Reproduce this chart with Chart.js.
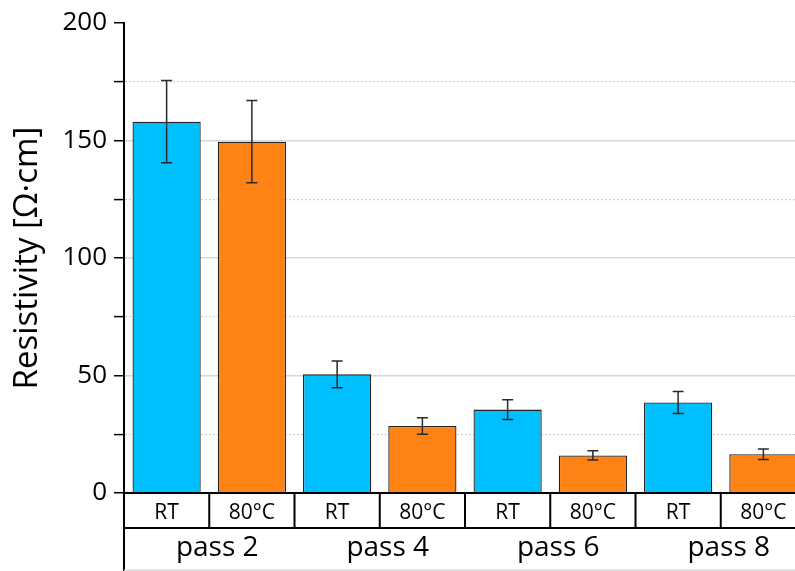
<!DOCTYPE html>
<html>
<head>
<meta charset="utf-8">
<script src="https://cdn.jsdelivr.net/npm/chart.js@4.4.1/dist/chart.umd.min.js"></script>
<style>
  html, body { margin: 0; padding: 0; background: #fff; overflow: hidden; }
  #wrap { position: relative; width: 806px; height: 571px; }
</style>
</head>
<body>
<div id="wrap"><canvas id="c"></canvas></div>
<script>
// Resistivity of printed samples after each pass, cured at RT or 80 °C
const groups = ['pass 2', 'pass 4', 'pass 6', 'pass 8'];
const conditions = ['RT', '80°C'];
const resistivityRT = [158, 50.5, 35.5, 38.5];
const resistivity80 = [149.5, 28.5, 16, 16.5];
const errorRT = [17.5, 5.7, 4.2, 4.7];
const error80 = [17.5, 3.5, 2.0, 2.2];
const yTicks = [0, 50, 100, 150, 200];

const colorRT = '#00BFFF';
const color80 = '#FF8214';
const FONT = '"Open Sans", "Noto Sans", sans-serif';

// interleave the two conditions per pass
const labels = [], values = [], errors = [], colors = [], condOf = [];
groups.forEach((g, i) => {
  labels.push(g + ' ' + conditions[0]); values.push(resistivityRT[i]); errors.push(errorRT[i]); colors.push(colorRT); condOf.push(conditions[0]);
  labels.push(g + ' ' + conditions[1]); values.push(resistivity80[i]); errors.push(error80[i]); colors.push(color80); condOf.push(conditions[1]);
});

// error bars on top of each bar
const errorBars = {
  id: 'errorBars',
  afterDatasetsDraw(chart) {
    const ctx = chart.ctx, y = chart.scales.y;
    const meta = chart.getDatasetMeta(0);
    ctx.save();
    ctx.strokeStyle = '#2a2a2a';
    ctx.lineWidth = 1.5;
    meta.data.forEach((bar, i) => {
      const v = values[i], e = errors[i];
      const yTop = y.getPixelForValue(v + e), yBot = y.getPixelForValue(v - e);
      const x = bar.x, cap = 5.5;
      ctx.beginPath();
      ctx.moveTo(x, yTop); ctx.lineTo(x, yBot);
      ctx.moveTo(x - cap, yTop); ctx.lineTo(x + cap, yTop);
      ctx.moveTo(x - cap, yBot); ctx.lineTo(x + cap, yBot);
      ctx.stroke();
    });
    ctx.restore();
  }
};

// two-row category table under the plot
const categoryTable = {
  id: 'categoryTable',
  afterDraw(chart) {
    const ctx = chart.ctx, xs = chart.scales.x, area = chart.chartArea;
    const n = labels.length;
    const slot = xs.getPixelForValue(1) - xs.getPixelForValue(0);
    const left = area.left, right = area.right;
    const y0 = area.bottom, y1 = y0 + 35, y2 = chart.height - 1;
    ctx.save();
    ctx.strokeStyle = '#000';
    ctx.lineWidth = 2;
    ctx.beginPath();
    ctx.moveTo(left, y0); ctx.lineTo(right, y0);
    ctx.moveTo(left, y1); ctx.lineTo(right, y1);
    ctx.moveTo(left, y0); ctx.lineTo(left, chart.height);
    for (let i = 1; i < n; i++) {
      const bx = xs.getPixelForValue(i) - slot / 2;
      ctx.moveTo(bx, y0); ctx.lineTo(bx, y1);
    }
    ctx.stroke();
    ctx.strokeStyle = '#d8d8d8';
    ctx.lineWidth = 1.5;
    ctx.beginPath();
    ctx.moveTo(left, y2); ctx.lineTo(right, y2);
    ctx.stroke();

    ctx.fillStyle = '#000';
    ctx.textAlign = 'center';
    ctx.textBaseline = 'alphabetic';
    ctx.font = '21px ' + FONT;
    for (let i = 0; i < n; i++) {
      ctx.fillText(condOf[i], xs.getPixelForValue(i), y0 + 26);
    }
    ctx.font = '28px ' + FONT;
    groups.forEach((g, k) => {
      const cx = (xs.getPixelForValue(2 * k) + xs.getPixelForValue(2 * k + 1)) / 2;
      ctx.fillText(g, cx + 8, y1 + 28);
    });
    ctx.restore();
  }
};

new Chart(document.getElementById('c'), {
  type: 'bar',
  data: {
    labels: labels,
    datasets: [{
      data: values,
      backgroundColor: colors,
      borderColor: '#222',
      borderWidth: 1.3,
      barPercentage: 0.8,
      categoryPercentage: 1.0
    }]
  },
  options: {
    responsive: true,
    maintainAspectRatio: false,
    animation: false,
    layout: { padding: { top: 23, bottom: 78, left: 0, right: 0 } },
    plugins: { legend: { display: false }, tooltip: { enabled: false } },
    scales: {
      x: { display: false },
      y: {
        min: 0,
        max: 200,
        afterFit(scale) { scale.width = 124; },
        afterBuildTicks(scale) {
          const t = [];
          for (let v = 0; v <= 200; v += 25) t.push({ value: v });
          scale.ticks = t;
        },
        ticks: {
          color: '#000',
          padding: 7,
          font: { family: FONT, size: 26 },
          callback: (v) => yTicks.includes(v) ? String(v) : ''
        },
        grid: {
          drawTicks: true,
          tickLength: 10,
          tickColor: '#000',
          tickWidth: 1.5,
          lineWidth: (c) => (c.tick && c.tick.value % 50) ? 1.2 : 1.5,
          color: (c) => {
            const v = c.tick ? c.tick.value : 0;
            if (v === 0 || v === 200) return 'rgba(0,0,0,0)';
            return v % 50 ? '#cfcfcf' : '#d6d6d6';
          }
        },
        border: {
          display: true,
          color: '#000',
          width: 2,
          dash: (c) => (c.tick && c.tick.value % 50) ? [2, 2] : []
        },
        title: {
          display: true,
          text: 'Resistivity [Ω·cm]',
          color: '#000',
          font: { family: FONT, size: 33 },
          padding: { top: 8, bottom: 0 }
        }
      }
    }
  },
  plugins: [errorBars, categoryTable]
});
</script>
</body>
</html>
